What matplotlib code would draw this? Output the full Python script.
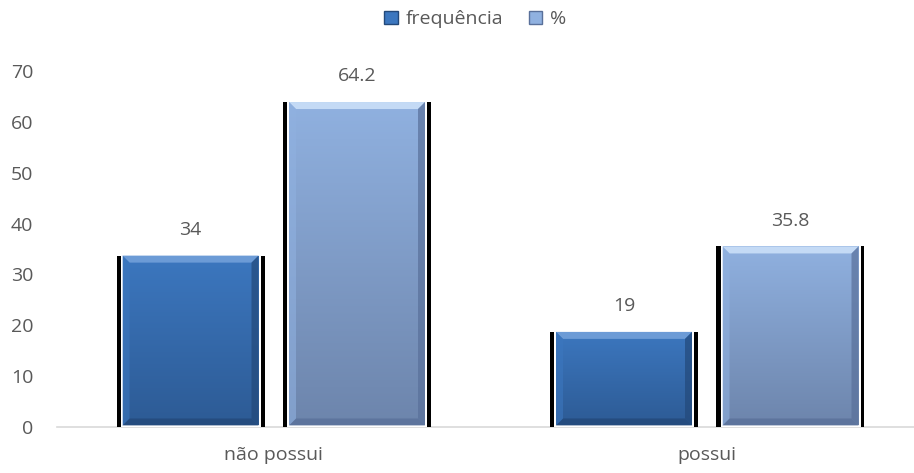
import matplotlib.pyplot as plt
import numpy as np
from matplotlib.patches import Rectangle, Polygon
from matplotlib.colors import LinearSegmentedColormap

plt.rcParams["font.family"] = ["Open Sans", "DejaVu Sans"]

categories = ["não possui", "possui"]
series_names = ["frequência", "%"]
frequencia = [34, 19]
percentual = [64.2, 35.8]
label_text = [["34", "19"], ["64.2", "35.8"]]

# top / bottom shades of each series
top_colors = ["#3c77bf", "#90b1e0"]
bottom_colors = ["#2d5b95", "#6d85ac"]
bevel_light = ["#6c9bd6", "#c4daf5"]
bevel_dark = ["#23497a", "#59709a"]

text_color = "#595959"

fig = plt.figure(figsize=(9.14, 4.73), dpi=100)
ax = fig.add_axes([57 / 914, 46 / 473, 1 - 57 / 914, 356 / 473])

px_x = 433.5            # pixels per category
px_y = 356 / 70         # pixels per y unit
offset = 83.25 / px_x
outer_hw = 74 / px_x
inner_hw = 68 / px_x
bev_x = 7 / px_x
bev_y = 7 / px_y


def draw_bar(xc, h, k):
    # dark drop shadow behind the bar
    ax.add_patch(Rectangle((xc - outer_hw, -0.5), 2 * outer_hw, h + 0.2,
                           facecolor="black", edgecolor="none", zorder=2))
    # thin white frame
    ax.add_patch(Rectangle((xc - inner_hw - 2 / px_x, 0), 2 * (inner_hw + 2 / px_x), h,
                           facecolor="white", edgecolor="none", zorder=3))
    x0, x1 = xc - inner_hw, xc + inner_hw
    cmap = LinearSegmentedColormap.from_list("g", [bottom_colors[k], top_colors[k]])
    grad = np.linspace(0, 1, 128).reshape(-1, 1)
    clip = Rectangle((x0, 0.3), x1 - x0, h - 0.6, transform=ax.transData)
    im = ax.imshow(grad, cmap=cmap, origin="lower", aspect="auto",
                   extent=(x0, x1, 0.3, h - 0.3), zorder=4)
    im.set_clip_path(clip)
    y0, y1 = 0.3, h - 0.3
    # bevel edges
    ax.add_patch(Polygon([(x0, y1), (x1, y1), (x1 - bev_x, y1 - bev_y), (x0 + bev_x, y1 - bev_y)],
                         closed=True, facecolor=bevel_light[k], edgecolor="none", zorder=5))
    ax.add_patch(Polygon([(x0, y0), (x1, y0), (x1 - bev_x, y0 + bev_y), (x0 + bev_x, y0 + bev_y)],
                         closed=True, facecolor=bevel_dark[k], edgecolor="none", zorder=5, alpha=0.8))
    ax.add_patch(Polygon([(x0, y0), (x0, y1), (x0 + bev_x, y1 - bev_y), (x0 + bev_x, y0 + bev_y)],
                         closed=True, facecolor=top_colors[k], edgecolor="none", zorder=5, alpha=0.6))
    ax.add_patch(Polygon([(x1, y0), (x1, y1), (x1 - bev_x, y1 - bev_y), (x1 - bev_x, y0 + bev_y)],
                         closed=True, facecolor=bevel_dark[k], edgecolor="none", zorder=5, alpha=0.7))


for i in range(len(categories)):
    for k, vals in enumerate([frequencia, percentual]):
        xc = i + (k - 0.5) * 2 * offset
        draw_bar(xc, vals[i], k)
        ax.text(xc, vals[i] + 4.8, label_text[k][i], ha="center", va="center",
                fontsize=14, color=text_color)

ax.set_xlim(-0.5, 1.5 - 10 / px_x)
ax.set_ylim(0, 70)
ax.set_yticks(range(0, 71, 10))
ax.set_xticks(range(len(categories)))
ax.set_xticklabels(categories)
ax.tick_params(axis="both", length=0, labelsize=14, labelcolor=text_color)
ax.tick_params(axis="y", pad=17)
ax.tick_params(axis="x", pad=14)
for s in ["top", "right", "left"]:
    ax.spines[s].set_visible(False)
ax.spines["bottom"].set_color("#d9d9d9")
ax.spines["bottom"].set_linewidth(1.2)
ax.spines["bottom"].set_zorder(1)

handles = [Rectangle((0, 0), 1, 1, facecolor=top_colors[k], edgecolor=bevel_dark[k], linewidth=1)
           for k in range(2)]
fig.legend(handles, series_names, loc="upper center", bbox_to_anchor=(0.52, 1.015),
           ncol=2, frameon=False, fontsize=14, labelcolor=text_color,
           handlelength=0.7, handleheight=0.7, handletextpad=0.4, columnspacing=1.3)

fig.savefig("out.png", dpi=100)
